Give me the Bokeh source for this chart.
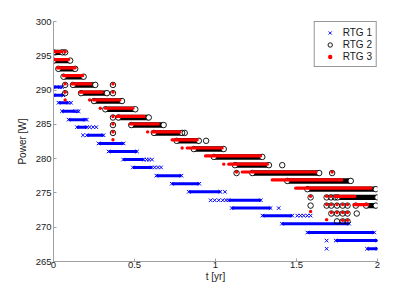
from bokeh.plotting import figure
from bokeh.models import Range1d, FixedTicker, Legend, LegendItem
from bokeh.embed import file_html
from bokeh.resources import INLINE

# ---------------- data ----------------
x_ticks = [0, 0.5, 1, 1.5, 2]
x_tick_labels = ["0", "0.5", "1", "1.5", "2"]
y_ticks = [265, 270, 275, 280, 285, 290, 295, 300]
y_tick_labels = ["265", "270", "275", "280", "285", "290", "295", "300"]
series_names = ["RTG 1", "RTG 2", "RTG 3"]

# RTG 1: dense runs at one quantised level (level, start, end) and single samples
rtg1_run_p = [290.43, 289.25, 288.15, 286.91, 285.69, 284.59, 283.41, 282.22, 281.04, 279.86, 278.72,
              277.52, 276.34, 275.16, 273.93, 272.79, 271.69, 270.51, 269.23, 268.05, 266.86]
rtg1_run_t0 = [0.0, 0.0, 0.031, 0.052, 0.093, 0.145, 0.206, 0.278, 0.34, 0.43, 0.49,
               0.635, 0.73, 0.835, 1.08, 1.10, 1.29, 1.41, 1.567, 1.742, 1.935]
rtg1_run_t1 = [0.04, 0.06, 0.093, 0.134, 0.196, 0.206, 0.309, 0.433, 0.516, 0.557, 0.608,
               0.79, 0.90, 1.03, 1.28, 1.34, 1.474, 1.825, 1.98, 2.0, 2.0]
rtg1_pt_t = [0.052, 0.108, 0.145, 0.155, 0.206, 0.223, 0.244, 0.264, 0.182, 0.575, 0.59, 0.608,
             0.625, 0.645, 0.664, 1.058, 0.97, 0.995, 1.02, 1.045, 1.065, 1.39, 1.505, 1.525,
             1.545, 1.567, 1.587, 1.686, 1.686]
rtg1_pt_p = [290.43, 288.15, 286.91, 286.91, 285.69, 284.59, 284.59, 284.59, 283.41, 279.86, 279.86,
             279.86, 278.72, 278.72, 278.72, 275.16, 273.93, 273.93, 273.93, 273.93, 273.93, 272.79,
             271.69, 271.69, 271.69, 271.69, 271.69, 268.05, 266.86]

# RTG 2
rtg2_run_p = [295.5, 294.3, 293.1, 291.95, 290.75, 289.55, 288.4, 287.2, 286.0, 284.9, 283.75,
              282.6, 281.4, 280.25, 279.05, 277.9, 276.75, 275.55, 274.35, 273.15]
rtg2_run_t0 = [0.0, 0.0, 0.03, 0.062, 0.12, 0.17, 0.25, 0.32, 0.40, 0.48, 0.62,
               0.76, 0.866, 0.99, 1.12, 1.227, 1.443, 1.567, 1.753, 1.93]
rtg2_run_t1 = [0.055, 0.103, 0.134, 0.186, 0.258, 0.33, 0.423, 0.505, 0.588, 0.68, 0.794,
               0.897, 1.051, 1.289, 1.33, 1.64, 1.835, 1.99, 2.0, 1.99]
rtg2_pt_t = [0.072, 0.072, 0.072, 0.367, 0.367, 0.367, 0.367, 0.367, 0.81, 0.942, 1.13, 1.412,
             1.72, 1.587, 1.587, 1.686, 1.713, 1.737, 1.686, 1.715, 1.75, 1.785, 1.815, 1.866,
             1.715, 1.75, 1.785, 1.815, 1.872, 1.75, 1.785, 1.815]
rtg2_pt_p = [295.5, 290.75, 289.55, 290.75, 289.55, 286.0, 284.9, 283.75, 283.75, 282.6, 277.9,
             279.05, 277.9, 274.35, 273.15, 274.35, 274.35, 274.35, 273.15, 273.15, 273.15, 273.15,
             273.15, 273.15, 272.0, 272.0, 272.0, 272.0, 272.0, 270.85, 270.85, 270.85]

# RTG 3
rtg3_run_p = [295.6, 294.45, 293.25, 292.1, 290.9, 289.7, 288.55, 287.35, 286.15, 285.05, 283.9,
              282.75, 281.55, 280.4, 279.2, 278.05, 276.9, 275.7, 274.5, 273.3]
rtg3_run_t0 = [0.0, 0.0, 0.025, 0.062, 0.114, 0.165, 0.247, 0.32, 0.392, 0.474, 0.609,
               0.732, 0.825, 0.938, 1.082, 1.165, 1.35, 1.495, 1.74, 1.855]
rtg3_run_t1 = [0.052, 0.093, 0.134, 0.18, 0.23, 0.30, 0.41, 0.49, 0.56, 0.647, 0.78,
               0.887, 1.041, 1.278, 1.32, 1.62, 1.78, 1.96, 1.86, 1.94]
rtg3_pt_t = [0.072, 0.072, 0.072, 0.072, 0.223, 0.289, 0.367, 0.367, 0.367, 0.367, 0.367, 0.367,
             0.581, 0.794, 1.051, 1.13, 1.72, 1.587, 1.587, 1.686, 1.713, 1.686, 1.715, 1.75,
             1.785, 1.815, 1.715, 1.75, 1.785, 1.815, 1.686, 1.785, 1.815]
rtg3_pt_p = [295.6, 290.9, 289.7, 288.55, 288.55, 287.35, 290.9, 289.7, 286.15, 285.05, 283.9,
             282.75, 283.9, 281.55, 279.2, 278.05, 278.05, 274.5, 272.3, 274.5, 274.5, 273.3,
             273.3, 273.3, 273.3, 273.3, 272.15, 272.15, 272.15, 272.15, 271.1, 271.0, 271.0]

# ---------------- figure ----------------
FONT = "Liberation Sans"
BLUE = "#0000ff"
RED = "#ff0000"

p = figure(width=399, height=284, output_backend="svg", toolbar_location=None,
           x_range=Range1d(0, 2), y_range=Range1d(265, 300),
           min_border_left=53, min_border_right=22, min_border_top=21, min_border_bottom=22)
p.outline_line_color = None
p.background_fill_color = "white"
p.border_fill_color = "white"
p.xgrid.visible = False
p.ygrid.visible = False

for ax, ticks, labels in ((p.xaxis[0], x_ticks, x_tick_labels), (p.yaxis[0], y_ticks, y_tick_labels)):
    ax.ticker = FixedTicker(ticks=ticks, minor_ticks=[])
    ax.major_label_overrides = {t: l for t, l in zip(ticks, labels)}
    ax.axis_line_color = "#a0a0a0"
    ax.major_tick_line_color = "#a0a0a0"
    ax.minor_tick_line_color = None
    ax.major_tick_in = 3
    ax.major_tick_out = 0
    ax.major_label_text_font = FONT
    ax.major_label_text_font_size = "9.5px"
    ax.major_label_text_color = "#1a1a1a"
    ax.axis_label_text_font = FONT
    ax.axis_label_text_font_size = "10px"
    ax.axis_label_text_font_style = "normal"
    ax.axis_label_text_color = "#1a1a1a"

p.xaxis.major_label_standoff = 0
p.xaxis.axis_label = "t [yr]"
p.xaxis.axis_label_standoff = 0
p.yaxis.major_label_standoff = 2
p.yaxis.axis_label = "Power [W]"
p.yaxis.axis_label_standoff = 5

# RTG 1 (blue crosses)
p.segment(x0=rtg1_run_t0, y0=rtg1_run_p, x1=rtg1_run_t1, y1=rtg1_run_p,
          line_color=BLUE, line_width=3.0, line_cap="butt")
p.scatter(x=rtg1_run_t0 + rtg1_run_t1, y=rtg1_run_p + rtg1_run_p, marker="x",
          size=5, line_color=BLUE, line_width=1)
r1 = p.scatter(x=rtg1_pt_t, y=rtg1_pt_p, marker="x", size=5, line_color=BLUE, line_width=1)

# RTG 2 (black open circles)
p.segment(x0=rtg2_run_t0, y0=rtg2_run_p, x1=rtg2_run_t1, y1=rtg2_run_p,
          line_color="black", line_width=5.4, line_cap="butt")
p.scatter(x=rtg2_run_t0 + rtg2_run_t1, y=rtg2_run_p + rtg2_run_p, marker="circle",
          size=5.5, line_color="black", line_width=0.9, fill_color="white")
r2 = p.scatter(x=rtg2_pt_t, y=rtg2_pt_p, marker="circle", size=5.5,
               line_color="black", line_width=0.9, fill_alpha=0)

# RTG 3 (red dots)
p.segment(x0=rtg3_run_t0, y0=rtg3_run_p, x1=rtg3_run_t1, y1=rtg3_run_p,
          line_color=RED, line_width=3.2, line_cap="round")
r3 = p.scatter(x=rtg3_pt_t, y=rtg3_pt_p, marker="circle", size=3.4,
               fill_color=RED, line_color=None)

legend = Legend(items=[LegendItem(label=series_names[0], renderers=[r1]),
                       LegendItem(label=series_names[1], renderers=[r2]),
                       LegendItem(label=series_names[2], renderers=[r3])],
                location="top_right", margin=0, padding=4, spacing=0,
                glyph_width=22, glyph_height=11, label_height=12, label_standoff=2,
                label_text_font=FONT, label_text_font_size="10px", label_text_color="#1a1a1a",
                border_line_color="#303030", border_line_width=0.8,
                background_fill_color="white", background_fill_alpha=1)
p.add_layout(legend)

open("out.html", "w").write(file_html(p, INLINE))
